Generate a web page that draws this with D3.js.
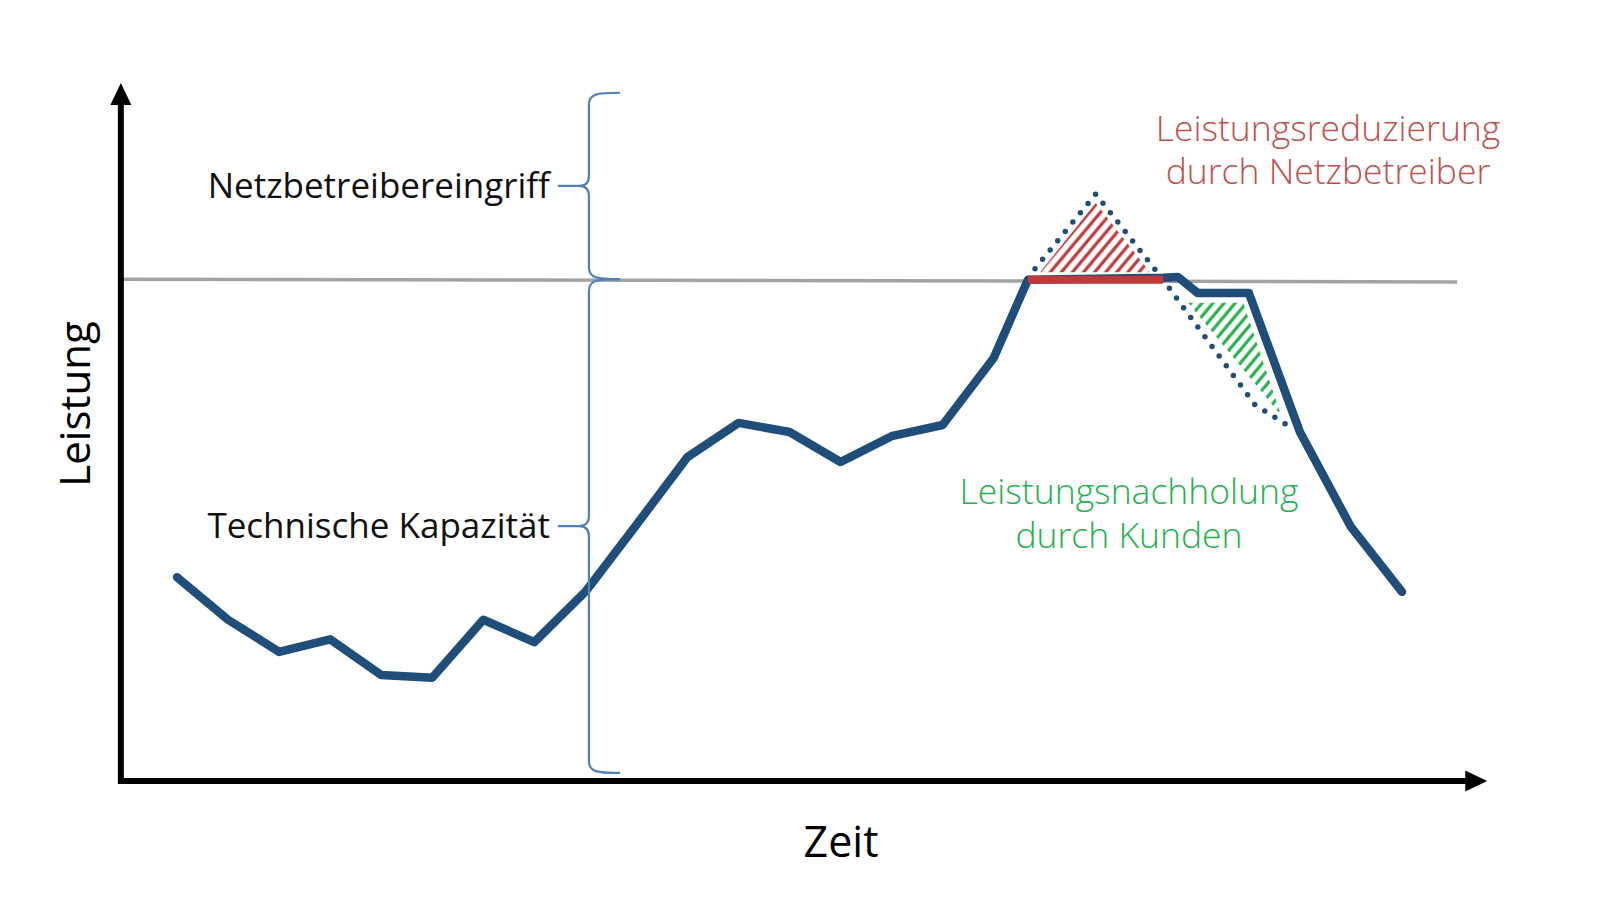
<!DOCTYPE html>
<html lang="de">
<head>
<meta charset="utf-8">
<title>Leistung / Zeit</title>
<script src="https://cdn.jsdelivr.net/npm/d3@7"></script>
<style>
  html, body { margin: 0; padding: 0; background: #fff; }
  svg { display: block; }
  text { font-family: "Segoe UI", "Open Sans", "Noto Sans", sans-serif; }
</style>
</head>
<body>
<div id="chart"></div>
<script>
// Lastgang (Zeitindex, Leistung in willkürlichen Einheiten 0..100)
const zeit     = [0, 1, 2, 3, 4, 5, 6, 7, 8, 9, 10, 11, 12, 13, 14, 15, 16, 16.67, 19.32, 19.61, 20, 21, 22, 23, 24];
const leistung = [29.2, 23.1, 18.5, 20.3, 15.2, 14.8, 23.1, 19.9, 27.1, 36.7, 46.4, 51.3, 50.0, 45.7, 49.4, 51.0, 60.6, 71.8, 72.1, 72.2, 69.9, 69.9, 50.0, 36.4, 27.1];

// ursprünglicher Verlauf ohne Eingriff (gepunktet)
const zeitOhneEingriff     = [16.81, 18.0, 19.32, 21.12, 21.75];
const leistungOhneEingriff = [73.4, 84.1, 71.8, 53.9, 51.0];

// abgeregelter Abschnitt (rote Linie)
const zeitAbregelung     = [16.67, 19.32];
const leistungAbregelung = [71.8, 71.8];

// schraffierte Flächen
const zeitReduzierung     = [16.91, 18.0, 19.06];
const leistungReduzierung = [72.9, 82.8, 72.9];
const zeitNachholung      = [19.81, 20.89, 21.63];
const leistungNachholung  = [68.5, 68.5, 52.4];

// technische Kapazität (graue Linie)
const zeitKapazitaet     = [-1.1, 25.08];
const leistungKapazitaet = [71.9, 71.5];

// Achsen und Klammern
const achseZeit = [-1.1, 25.67];
const achseLeistung = [0, 100];
const klammerZeit = 8.07;
const klammerOben = 98.6;
const klammerUnten = 1.15;

const labels = {
  xTitle: "Zeit",
  yTitle: "Leistung",
  eingriff: "Netzbetreibereingriff",
  kapazitaet: "Technische Kapazität",
  reduzierung: ["Leistungsreduzierung", "durch Netzbetreiber"],
  nachholung: ["Leistungsnachholung", "durch Kunden"]
};

const W = 1600, H = 900;
const blue = "#1f4e7a", braceBlue = "#4f81bd", red = "#c0393b", green = "#22b24c";

const svg = d3.select("#chart").append("svg")
    .attr("width", W).attr("height", H)
    .attr("viewBox", `0 0 ${W} ${H}`);

const x = d3.scaleLinear().domain([0, 24]).range([177, 1402]);
const y = d3.scaleLinear().domain([0, 100]).range([781, 83]);

const pts = (xs, ys) => xs.map((t, i) => [x(t), y(ys[i])]);
const line = d3.line();

// hatch patterns
const defs = svg.append("defs");
function hatch(id, color) {
  const p = defs.append("pattern").attr("id", id)
      .attr("patternUnits", "userSpaceOnUse")
      .attr("width", 8.5).attr("height", 8.5)
      .attr("patternTransform", "rotate(40)");
  p.append("line").attr("x1", 2).attr("y1", 0).attr("x2", 2).attr("y2", 8.5)
      .attr("stroke", color).attr("stroke-width", 3.2);
}
hatch("hatch-red", red);
hatch("hatch-green", green);

// capacity line
svg.append("path")
    .attr("d", line(pts(zeitKapazitaet, leistungKapazitaet)))
    .attr("stroke", "#a3a3a3").attr("stroke-width", 3.5).attr("fill", "none");

// hatched areas
svg.append("path")
    .attr("d", line(pts(zeitReduzierung, leistungReduzierung)) + "Z")
    .attr("fill", "url(#hatch-red)");
svg.append("path")
    .attr("d", line(pts(zeitNachholung, leistungNachholung)) + "Z")
    .attr("fill", "url(#hatch-green)");

// dotted counterfactual
svg.append("path")
    .attr("d", line(pts(zeitOhneEingriff, leistungOhneEingriff)))
    .attr("fill", "none").attr("stroke", blue).attr("stroke-width", 5.5)
    .attr("stroke-linecap", "round").attr("stroke-dasharray", "0 12");

// main load curve
svg.append("path")
    .attr("d", line(pts(zeit, leistung)))
    .attr("fill", "none").attr("stroke", blue).attr("stroke-width", 8.5)
    .attr("stroke-linejoin", "round").attr("stroke-linecap", "round");

// curtailed segment
svg.append("path")
    .attr("d", line(pts(zeitAbregelung, leistungAbregelung)))
    .attr("fill", "none").attr("stroke", red).attr("stroke-width", 8);

// axes with arrow heads
const x0 = x(achseZeit[0]), y0 = y(achseLeistung[0]);
const xEnd = x(achseZeit[1]), yEnd = y(achseLeistung[1]);
const head = 21;
svg.append("path")
    .attr("d", `M${x0},${y0}V${yEnd + head}M${x0},${y0}H${xEnd - head}`)
    .attr("stroke", "#000").attr("stroke-width", 6).attr("fill", "none")
    .attr("stroke-linecap", "square");
svg.append("path")
    .attr("d", `M${x0},${yEnd}L${x0 - 10.5},${yEnd + head + 1}L${x0 + 10.5},${yEnd + head + 1}Z`)
    .attr("fill", "#000");
svg.append("path")
    .attr("d", `M${xEnd},${y0}L${xEnd - head - 1},${y0 - 10.5}L${xEnd - head - 1},${y0 + 10.5}Z`)
    .attr("fill", "#000");

// curly braces
function brace(xv, yTop, yBot) {
  const w = 31, ym = (yTop + yBot) / 2;
  return `M${xv + w},${yTop}C${xv + 8},${yTop} ${xv},${yTop + 1} ${xv},${yTop + 12}` +
         `L${xv},${ym - 10}C${xv},${ym - 3} ${xv - 4},${ym} ${xv - 10},${ym}L${xv - w},${ym}` +
         `M${xv - 10},${ym}C${xv - 4},${ym} ${xv},${ym + 3} ${xv},${ym + 10}` +
         `L${xv},${yBot - 12}C${xv},${yBot - 1} ${xv + 8},${yBot} ${xv + w},${yBot}`;
}
const bx = x(klammerZeit);
const yCap = y(leistungKapazitaet[0]);
svg.append("path").attr("d", brace(bx, y(klammerOben), yCap))
    .attr("fill", "none").attr("stroke", braceBlue).attr("stroke-width", 2.2);
svg.append("path").attr("d", brace(bx, yCap, y(klammerUnten)))
    .attr("fill", "none").attr("stroke", braceBlue).attr("stroke-width", 2.2);

// brace labels
svg.append("text").attr("x", bx - 39).attr("y", (y(klammerOben) + yCap) / 2 + 12)
    .attr("text-anchor", "end").attr("font-size", 35).attr("fill", "#111")
    .text(labels.eingriff);
svg.append("text").attr("x", bx - 39).attr("y", (yCap + y(klammerUnten)) / 2 + 12)
    .attr("text-anchor", "end").attr("font-size", 35).attr("fill", "#111")
    .text(labels.kapazitaet);

// annotation texts
svg.append("text").attr("text-anchor", "middle").attr("font-size", 35.5)
    .attr("fill", "#c0504d").attr("font-weight", 300)
  .selectAll("tspan").data(labels.reduzierung).join("tspan")
    .attr("x", 1328).attr("y", (d, i) => 141 + i * 43).text(d => d);
svg.append("text").attr("text-anchor", "middle").attr("font-size", 35.5)
    .attr("fill", green).attr("font-weight", 300)
  .selectAll("tspan").data(labels.nachholung).join("tspan")
    .attr("x", 1129).attr("y", (d, i) => 504 + i * 44).text(d => d);

// axis titles
svg.append("text").attr("x", 841).attr("y", 857).attr("text-anchor", "middle")
    .attr("font-size", 43).attr("fill", "#000").text(labels.xTitle);
svg.append("text").attr("transform", "translate(90,404) rotate(-90)")
    .attr("text-anchor", "middle").attr("font-size", 42).attr("fill", "#000")
    .text(labels.yTitle);
</script>
</body>
</html>
